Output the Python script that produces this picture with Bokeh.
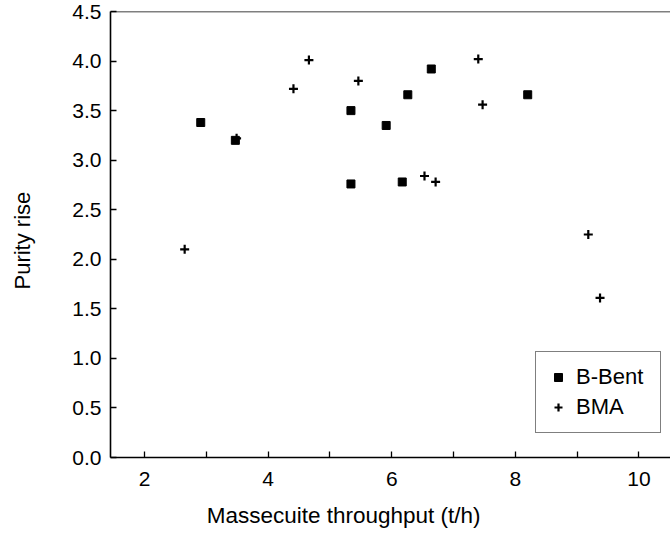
from bokeh.plotting import figure
from bokeh.models import (FixedTicker, PrintfTickFormatter, Legend, LegendItem,
                          Span, Range1d, ColumnDataSource)
from bokeh.embed import file_html
from bokeh.resources import INLINE

# ---- data ----
bbent_x = [2.91, 3.47, 5.34, 5.91, 6.26, 6.64, 8.20, 5.34, 6.17]
bbent_y = [3.38, 3.20, 3.50, 3.35, 3.66, 3.92, 3.66, 2.76, 2.78]

bma_x = [2.65, 3.49, 4.41, 4.66, 5.46, 7.40, 7.47, 6.53, 6.71, 9.18, 9.37]
bma_y = [2.10, 3.22, 3.72, 4.01, 3.80, 4.02, 3.56, 2.84, 2.78, 2.25, 1.61]

x_ticks = [2, 4, 6, 8, 10]
x_minor = [3, 5, 7, 9]
y_ticks = [0.0, 0.5, 1.0, 1.5, 2.0, 2.5, 3.0, 3.5, 4.0, 4.5]

x_title = "Massecuite throughput (t/h)"
y_title = "Purity rise"
series_names = ["B-Bent", "BMA"]

FONT = "Liberation Sans"
NBSP = "\u00a0"

p = figure(width=670, height=533, output_backend="svg", toolbar_location=None,
           x_range=Range1d(1.45, 10.51), y_range=Range1d(0, 4.5),
           min_border_left=110, min_border_right=0, min_border_top=11,
           min_border_bottom=76)
p.grid.visible = False
p.outline_line_color = None
p.background_fill_color = "white"
p.border_fill_color = "white"

src_b = ColumnDataSource(dict(x=bbent_x, y=bbent_y))
src_m = ColumnDataSource(dict(x=bma_x, y=bma_y))
r_b = p.scatter("x", "y", source=src_b, marker="square", size=8,
                fill_color="black", line_color="black")
r_m = p.scatter("x", "y", source=src_m, marker="cross", size=9,
                line_color="black", line_width=2.2)

# axes
for ax in (p.xaxis[0], p.yaxis[0]):
    ax.axis_line_width = 1.6
    ax.axis_line_color = "black"
    ax.major_tick_in = 6
    ax.major_tick_out = 0
    ax.minor_tick_in = 6
    ax.minor_tick_out = 0
    ax.major_tick_line_width = 1.3
    ax.minor_tick_line_width = 1.3
    ax.major_label_text_font = FONT
    ax.major_label_text_font_size = "21px"
    ax.major_label_text_color = "black"
    ax.axis_label_text_font = FONT
    ax.axis_label_text_font_style = "normal"
    ax.axis_label_text_color = "black"

p.xaxis[0].ticker = FixedTicker(ticks=x_ticks, minor_ticks=x_minor)
p.xaxis[0].major_label_standoff = 14
# trailing no-break spaces shift the centred title left, as in the reference
p.xaxis[0].axis_label = x_title + NBSP * 15
p.xaxis[0].axis_label_text_font_size = "22.5px"
p.xaxis[0].axis_label_standoff = 14

p.yaxis[0].ticker = FixedTicker(ticks=y_ticks, minor_ticks=[])
p.yaxis[0].formatter = PrintfTickFormatter(format="%.1f")
p.yaxis[0].major_label_standoff = 9
p.yaxis[0].axis_label = y_title + NBSP * 2
p.yaxis[0].axis_label_text_font_size = "22px"
p.yaxis[0].axis_label_standoff = 34

# top frame line
p.add_layout(Span(location=4.5, dimension="width", line_color="black",
                  line_width=1.6))

legend = Legend(items=[LegendItem(label=series_names[0], renderers=[r_b]),
                       LegendItem(label=series_names[1], renderers=[r_m])],
                location=(425, 24), padding=12, spacing=4,
                glyph_width=20, glyph_height=24, label_height=24,
                label_width=72, label_standoff=8,
                label_text_font=FONT, label_text_font_size="22px",
                label_text_color="black",
                border_line_color="black", border_line_width=1.5,
                background_fill_color="white", background_fill_alpha=1.0,
                margin=0)
p.add_layout(legend, "center")

open("out.html", "w").write(file_html(p, INLINE))
